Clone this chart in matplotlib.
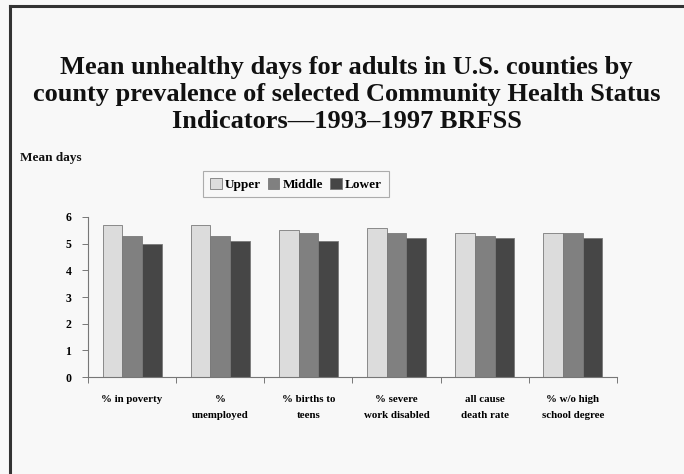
import matplotlib
matplotlib.use("Agg")
import matplotlib.pyplot as plt
from matplotlib.lines import Line2D
import numpy as np

categories = ["% in poverty", "%\nunemployed", "% births to\nteens",
              "% severe\nwork disabled", "all cause\ndeath rate", "% w/o high\nschool degree"]
series_names = ["Upper", "Middle", "Lower"]
upper = [5.7, 5.7, 5.5, 5.6, 5.4, 5.4]
middle = [5.3, 5.3, 5.4, 5.4, 5.3, 5.4]
lower = [5.0, 5.1, 5.1, 5.2, 5.2, 5.2]
yticks = [0, 1, 2, 3, 4, 5, 6]

colors = ["#dcdcdc", "#808080", "#464646"]
serif = ["Liberation Serif", "DejaVu Serif"]

fig = plt.figure(figsize=(6.84, 4.74), dpi=100, facecolor="#f8f8f8")

# frame lines along the top and left edges
fig.add_artist(Line2D([0.0145, 0.0145], [0, 0.987], transform=fig.transFigure,
                      color="#333333", lw=2.2))
fig.add_artist(Line2D([0.0145, 1.0], [0.987, 0.987], transform=fig.transFigure,
                      color="#333333", lw=2.2))

fig.text(0.507, 0.801,
         "Mean unhealthy days for adults in U.S. counties by\n"
         "county prevalence of selected Community Health Status\n"
         "Indicators\u20141993\u20131997 BRFSS",
         ha="center", va="center", fontsize=19, fontweight="bold",
         family=serif, linespacing=1.22, color="#111111")

fig.text(0.029, 0.666, "Mean days", ha="left", va="center", fontsize=9.5,
         fontweight="bold", family=serif, color="#111111")

ax = fig.add_axes([0.1287, 0.2046, 0.902 - 0.1287, 0.5422 - 0.2046])
ax.set_facecolor("#f8f8f8")

x = np.arange(len(categories))
w = 0.223
for i, (vals, name) in enumerate(zip([upper, middle, lower], series_names)):
    ax.bar(x + (i - 1) * w, vals, width=w, color=colors[i], edgecolor="#7a7a7a",
           linewidth=0.6, label=name)

ax.set_xlim(-0.5, len(categories) - 0.5)
ax.set_ylim(0, 6)
ax.set_yticks(yticks)
ax.set_yticklabels([str(t) for t in yticks], fontsize=8.5, fontweight="bold",
                   family=serif)
ax.set_xticks(np.arange(len(categories) + 1) - 0.5)
ax.set_xticklabels([])
ax.set_xticks(x, minor=True)
ax.set_xticklabels(categories, minor=True, fontsize=7.8, fontweight="bold",
                   family=serif, linespacing=2.0)
ax.tick_params(axis="x", which="minor", length=0, pad=13)
ax.tick_params(axis="x", which="major", length=4, color="#777777", width=0.7)
ax.tick_params(axis="y", length=4, color="#777777", width=0.7, pad=8)

for s in ["top", "right"]:
    ax.spines[s].set_visible(False)
for s in ["left", "bottom"]:
    ax.spines[s].set_color("#777777")
    ax.spines[s].set_linewidth(0.8)

leg = fig.legend(loc="center", bbox_to_anchor=(0.4325, 0.6115), ncol=3,
                 prop={"family": serif, "weight": "bold", "size": 9.5},
                 frameon=True, fancybox=False, handlelength=0.9, handleheight=0.9,
                 handletextpad=0.25, columnspacing=0.5, borderpad=0.5,
                 edgecolor="#999999", facecolor="#f8f8f8")
leg.get_frame().set_linewidth(0.8)

fig.savefig("out.png", dpi=100, facecolor=fig.get_facecolor())
